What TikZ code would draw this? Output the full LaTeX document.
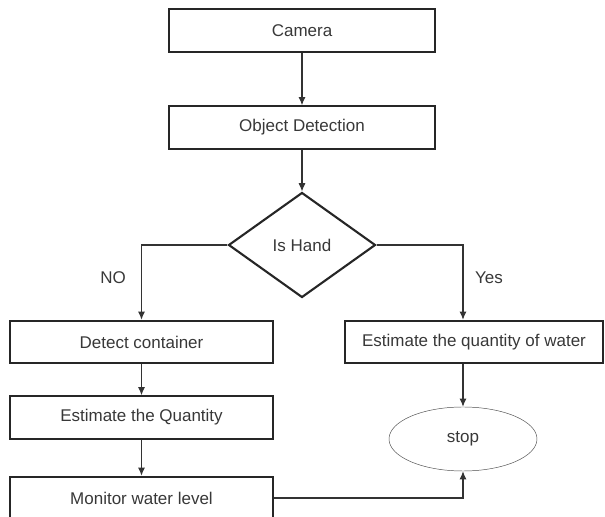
\documentclass[tikz,border=0pt]{standalone}
\usepackage{fontspec}
\setmainfont{Liberation Sans}
\usetikzlibrary{shapes.geometric}
\usetikzlibrary{arrows.meta}
\tikzset{>={Latex[length=7pt,width=6pt]}}
\usepackage{xcolor}
\colorlet{txtcol}{black!78}
\colorlet{edgecol}{black!85}
\tikzstyle{proc}=[draw=edgecol,line width=1.8pt,text=txtcol,minimum height=1.27cm,inner sep=0pt]
\tikzstyle{flow}=[->,line width=0.9pt,black!80]

\begin{document}
\begin{tikzpicture}[x=0.03cm,y=-0.03cm]
  \tikzstyle{every node}=[font=\fontsize{14.5}{17}\selectfont]
  \useasboundingbox (0,0) rectangle (605,517);
  \def\wTop{7.98cm}
  \def\wL{7.89cm}
  \def\wR{7.74cm}

  % top
  \node[proc, minimum width=\wTop] (cam) at (302,30.5) {Camera};
  \node[proc, minimum width=\wTop] (det) at (302,127.5) {Object Detection};
  \node[draw=edgecol, line width=1.8pt, text=txtcol, diamond, inner sep=0pt,
        minimum width=4.41cm, minimum height=3.15cm] (hand) at (302,245) {Is Hand};

  % left branch
  \node[proc, minimum width=\wL] (cont) at (141.5,342) {Detect container};
  \node[proc, minimum width=\wL] (qty) at (141.5,417.5) {Estimate the Quantity};
  \node[proc, minimum width=\wL] (lvl) at (141.5,498) {Monitor water level};

  % right branch
  \node[proc, minimum width=\wR] (wat) at (474,342) {Estimate the quantity of water};
  \node[draw=black!70, thin, text=txtcol, ellipse, inner sep=0pt,
        minimum width=4.44cm, minimum height=1.92cm] (stop) at (463,439) {stop};

  \draw[flow] (cam) -- (det);
  \draw[flow] (det) -- (hand);
  \draw[flow] (hand.west) -| (cont.north);
  \draw[flow] (hand.east) -| (stop |- wat.north);
  \draw[flow] (cont) -- (qty);
  \draw[flow] (qty) -- (lvl);
  \draw[flow] (stop |- wat.south) -- (stop.north);
  \draw[flow] (lvl.east) -| (stop.south);

  \node[text=txtcol] (no) at (113,278) {NO};
  \node[text=txtcol] (yes) at (489,278) {Yes};
\end{tikzpicture}
\end{document}
